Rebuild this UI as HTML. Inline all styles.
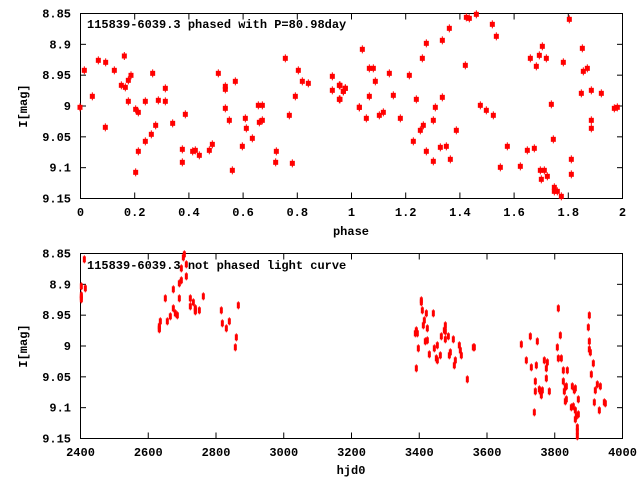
<!DOCTYPE html>
<html><head><meta charset="utf-8"><style>
html,body{margin:0;padding:0;background:#fff;width:640px;height:480px;overflow:hidden}
svg{display:block}
text{font-family:"Liberation Mono",monospace;font-weight:bold;font-size:12px;fill:#000}
</style></head><body>
<svg id="s" width="640" height="480" xmlns="http://www.w3.org/2000/svg">
<rect x="80.5" y="13.5" width="542" height="185" fill="none" stroke="#000"/>
<rect x="80.5" y="253.5" width="542" height="185" fill="none" stroke="#000"/>
<g id="ax"></g>
<g id="pts" fill="#f00"></g>
<text x="87" y="28">115839-6039.3 phased with P=80.98day</text>
<text x="87" y="269">115839-6039.3 not phased light curve</text>
<text x="351" y="235" text-anchor="middle">phase</text>
<text x="351" y="474" text-anchor="middle">hjd0</text>
<text transform="translate(27,106) rotate(-90)" text-anchor="middle">I[mag]</text>
<text transform="translate(27,346) rotate(-90)" text-anchor="middle">I[mag]</text>
</svg>
<script>
var NS="http://www.w3.org/2000/svg",ax=document.getElementById('ax'),pg=document.getElementById('pts');
function el(p,t,a,txt){var e=document.createElementNS(NS,t);for(var k in a)e.setAttribute(k,a[k]);if(txt)e.textContent=txt;p.appendChild(e);return e;}
var yl=["8.85","8.9","8.95","9","9.05","9.1","9.15"];
[13.5,253.5].forEach(function(top){
 for(var i=0;i<7;i++){var y=top+i*185/6;
  el(ax,'line',{x1:80,x2:86,y1:y,y2:y,stroke:'#000'});
  el(ax,'line',{x1:617,x2:623,y1:y,y2:y,stroke:'#000'});
  el(ax,'text',{x:71,y:y+4,'text-anchor':'end'},yl[i]);}
});
var xt1=["0","0.2","0.4","0.6","0.8","1","1.2","1.4","1.6","1.8","2"];
for(var i=0;i<11;i++){var x=80.5+i*54.2;
 el(ax,'line',{x1:x,x2:x,y1:198.5,y2:192.5,stroke:'#000'});
 el(ax,'line',{x1:x,x2:x,y1:13.5,y2:19.5,stroke:'#000'});
 el(ax,'text',{x:x,y:216,'text-anchor':'middle'},xt1[i]);}
for(var i=0;i<9;i++){var x=80.5+i*67.75;
 el(ax,'line',{x1:x,x2:x,y1:438.5,y2:432.5,stroke:'#000'});
 el(ax,'line',{x1:x,x2:x,y1:253.5,y2:259.5,stroke:'#000'});
 el(ax,'text',{x:x,y:456,'text-anchor':'middle'},String(2400+i*200));}
var A=[60,322,73,211,97,289,115,181,137,187,136,382,163,211,184,256,193,168,196,262,205,241,205,304,213,226,227,328,235,337,235,454,227,517,256,304,256,424,274,403,278,220,287,376,295,301,316,265,316,304,338,370,367,448,367,487,376,343,398,454,406,451,418,466,448,451,457,433,475,220,496,259,496,268,496,325,508,361,517,511,526,244,547,439,556,355,559,385,577,415,595,316,598,367,607,316,607,361,647,487,649,454,676,175,688,346,697,490,706,289,715,211,727,244,745,250,817,229,817,271,838,256,838,298,850,274,856,265,898,322];
var B=[0,256,0,298,10,274,16,265,58,322,67,148,79,355,88,205,88,289,100,205,106,244,118,346,130,337,148,220,160,286,181,355,208,226,220,424,229,298,241,391,250,376,247,175,259,454,259,130,280,361,280,484,286,322,307,121,307,292,301,442,319,439,328,85,331,478,349,391,376,196,379,52,388,55,409,43,421,316,439,331,457,73,460,346,469,109,481,502,502,439,541,499,562,451,571,175,583,445,589,199,598,166,601,511,604,538,607,139,613,511,619,175,622,529,634,313,640,418,643,562,643,574,652,574,664,589,670,187,688,58,694,478,694,523,724,280,727,145,730,214,742,205,754,271,754,361,754,385,784,280,823,325,832,322];
var C=[73,58,64,139,76,145,64,166,64,172,64,178,298,259,298,265,298,268,301,244,316,175,322,244,331,229,340,148,340,205,346,220,352,226,358,130,358,175,364,121,364,85,370,52,373,43,379,73,379,109,391,175,391,199,400,187,406,205,406,211,406,214,418,211,430,169,484,211,487,250,499,265,508,244,526,322,529,292,535,196];
var D=[79,271,82,280,76,280,79,385,85,325,94,181,94,187,97,211,100,256,103,241,106,304,109,220,112,301,112,265,118,343,130,220,133,325,139,355,142,361,142,316,151,346,154,289,163,271,166,256,166,298,166,274,175,289,178,346,181,337,190,298,193,376,196,361,208,316,211,331,214,346,232,418,250,322,253,322,394,313,409,361,421,289,424,382,433,517,436,424,436,454,439,376,442,304,448,448,451,454,454,466,457,451,463,361,469,385,469,415,472,367,478,454,502,322,505,205,505,355,511,286,514,355,520,391,520,424,523,454,526,442,526,484,529,439,529,478,532,391,544,502,547,439,550,499,553,451,556,445,556,538,556,511,559,529,562,562,562,574,562,589,565,523,565,478,595,262,598,226,598,304,598,328,601,337,604,403,610,370,613,487,616,451,622,433,628,511,631,439,643,487,646,490];
function sq(arr,ox,oy){for(var i=0;i<arr.length;i+=2){var x=ox+arr[i]/3,y=oy+arr[i+1]/3;
 el(pg,'rect',{x:x-2.5,y:y-2.5,width:5,height:5});
 el(pg,'rect',{x:x-0.5,y:y-4,width:1,height:8});}}
function ov(arr,ox,oy){for(var i=0;i<arr.length;i+=2){var x=ox+arr[i]/3,y=oy+arr[i+1]/3;
 el(pg,'rect',{x:x-1.5,y:y-3,width:3,height:6});
 el(pg,'rect',{x:x-0.5,y:y-4,width:1,height:8});}}
sq(A,60,0);sq(B,340,0);ov(C,60,240);ov(D,390,240);
</script>
</body></html>
